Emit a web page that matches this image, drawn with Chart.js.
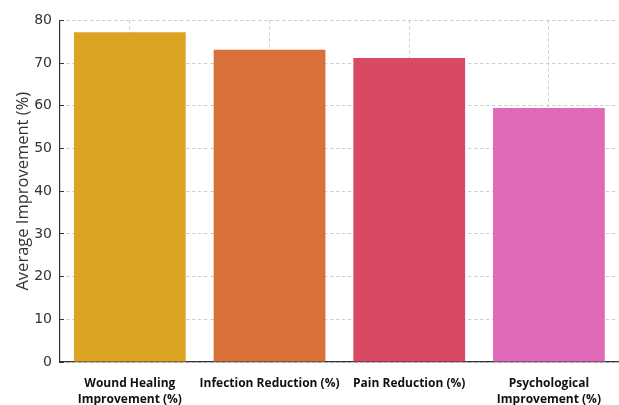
<!DOCTYPE html>
<html>
<head>
<meta charset="utf-8">
<script src="https://cdn.jsdelivr.net/npm/chart.js@4"></script>
<style>
  html, body { margin: 0; padding: 0; background: #ffffff; }
  #wrap { width: 619px; height: 405px; }
</style>
</head>
<body>
<div id="wrap"><canvas id="chart" width="619" height="405"></canvas></div>
<script>
const categories = [
  ["Wound Healing", "Improvement (%)"],
  "Infection Reduction (%)",
  "Pain Reduction (%)",
  ["Psychological", "Improvement (%)"]
];
const improvement = [77.2, 73.1, 71.2, 59.5];
const barColors = ["#DDA323", "#D9703A", "#DA4963", "#E06AB9"];
const yTicks = [0, 10, 20, 30, 40, 50, 60, 70, 80];

// light dashed grid drawn above the bars, short inward tick marks
const gridStyle = {
  offset: false,
  color: "rgba(185,185,185,0.75)",
  lineWidth: 1,
  tickColor: "#333333",
  tickLength: -4,
  tickWidth: 1
};

new Chart(document.getElementById("chart"), {
  type: "bar",
  data: {
    labels: categories,
    datasets: [{
      data: improvement,
      backgroundColor: barColors,
      borderWidth: 0,
      barPercentage: 0.8,
      categoryPercentage: 1.0
    }]
  },
  options: {
    responsive: false,
    animation: false,
    layout: { padding: { left: 13, right: 0, top: 17, bottom: 0 } },
    plugins: { legend: { display: false }, tooltip: { enabled: false } },
    scales: {
      x: {
        z: 1,
        grid: gridStyle,
        border: { display: true, color: "#333333", width: 1.2, dash: [3, 3] },
        ticks: {
          color: "#111111",
          font: { family: "'Open Sans'", size: 12, weight: "bold", lineHeight: 1.3 },
          maxRotation: 0,
          minRotation: 0,
          autoSkip: false,
          padding: 18
        },
        afterFit(scale) { scale.height = 43; }
      },
      y: {
        z: 1,
        min: 0,
        max: 80,
        afterBuildTicks(scale) { scale.ticks = yTicks.map(v => ({ value: v })); },
        grid: gridStyle,
        border: { display: true, color: "#333333", width: 1.2, dash: [3, 3] },
        ticks: {
          color: "#333333",
          font: { family: "'DejaVu Sans'", size: 14 },
          padding: 12
        },
        title: {
          display: true,
          text: "Average Improvement (%)",
          color: "#333333",
          font: { family: "'Open Sans'", size: 16.5 },
          padding: { top: 0, bottom: 0 }
        },
        afterFit(scale) { scale.width = 47; }
      }
    }
  }
});
</script>
</body>
</html>
